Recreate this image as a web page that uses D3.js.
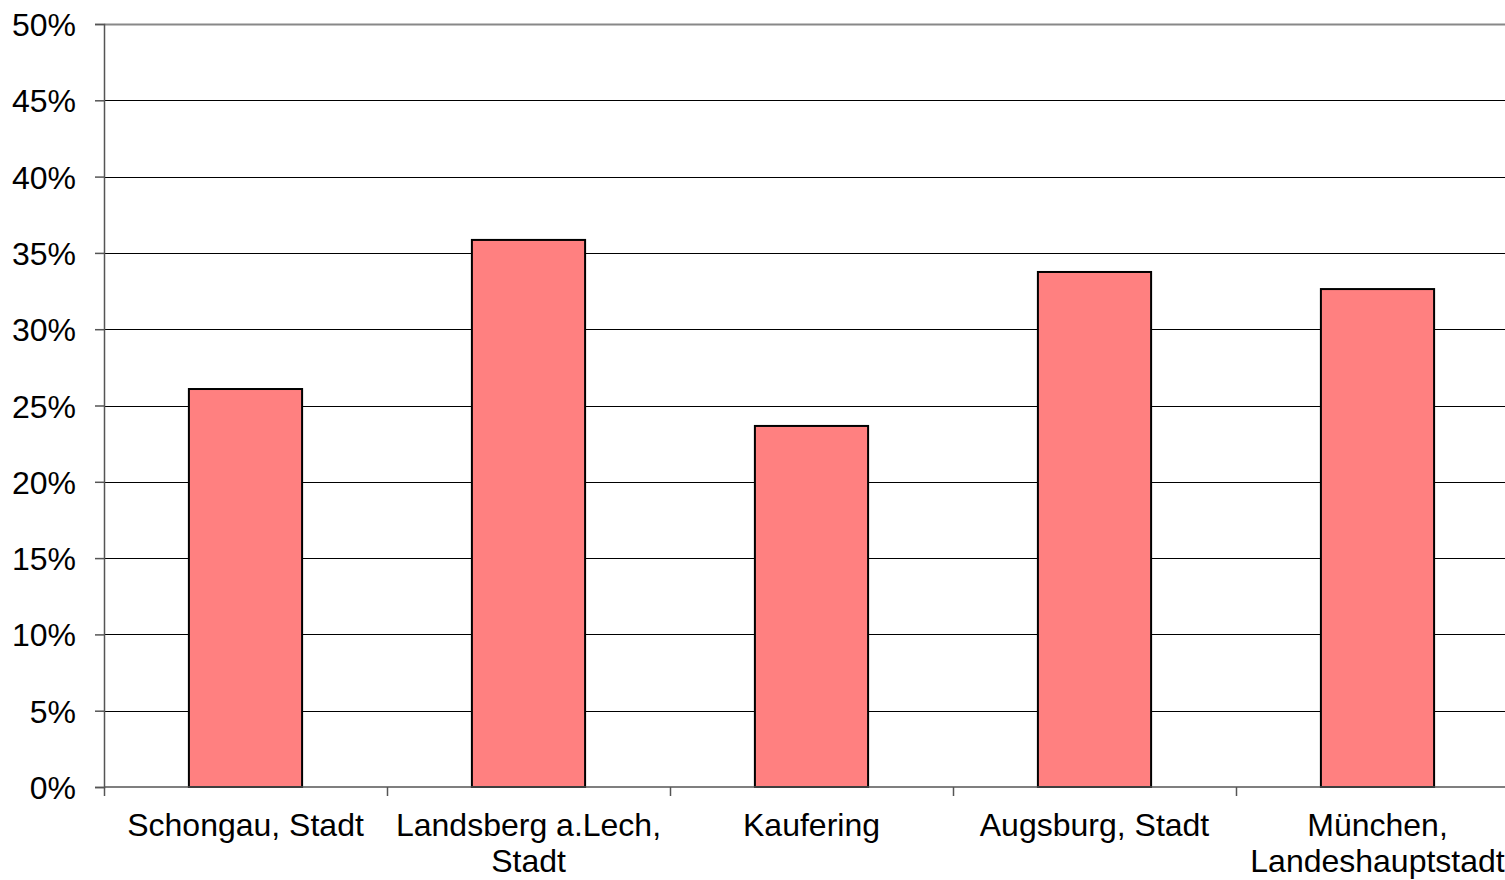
<!DOCTYPE html>
<html>
<head>
<meta charset="utf-8">
<script src="https://cdn.jsdelivr.net/npm/d3@7"></script>
<style>
  body { margin: 0; background: #fff; overflow: hidden; }
  text { font-family: "Liberation Sans", Arial, sans-serif; fill: #000; }
</style>
</head>
<body>
<div id="chart"></div>
<script>
// chart data
var categories = ["Schongau, Stadt", "Landsberg a.Lech, Stadt", "Kaufering", "Augsburg, Stadt", "München, Landeshauptstadt"];
var labelLines = [["Schongau, Stadt"], ["Landsberg a.Lech,", "Stadt"], ["Kaufering"], ["Augsburg, Stadt"], ["München,", "Landeshauptstadt"]];
var values = [0.2608, 0.3585, 0.2366, 0.3375, 0.3263];
var yTicks = [0, 0.05, 0.10, 0.15, 0.20, 0.25, 0.30, 0.35, 0.40, 0.45, 0.50];

var width = 1505, height = 880;
// plot area runs a little past the right edge of the picture
var plotRight = 1519;
var margin = {top: 24, bottom: 93, left: 104};

var svg = d3.select("#chart").append("svg")
  .attr("width", width)
  .attr("height", height);

var x = d3.scaleBand()
  .domain(categories)
  .range([margin.left, plotRight])
  .paddingInner(0.6)
  .paddingOuter(0.3);

var y = d3.scaleLinear()
  .domain([0, 0.5])
  .range([height - margin.bottom, margin.top]);

// gridlines
svg.append("g")
  .selectAll("line")
  .data(yTicks.slice(1))
  .join("line")
  .attr("x1", margin.left)
  .attr("x2", plotRight)
  .attr("y1", function(d) { return Math.round(y(d)) + 0.5; })
  .attr("y2", function(d) { return Math.round(y(d)) + 0.5; })
  .attr("stroke", function(d) { return d === 0.5 ? "#888" : "#000"; })
  .attr("stroke-width", function(d) { return d === 0.5 ? 2 : 1; });

// bars
svg.append("g")
  .selectAll("rect")
  .data(values)
  .join("rect")
  .attr("x", function(d, i) { return x(categories[i]); })
  .attr("y", function(d) { return y(d); })
  .attr("width", x.bandwidth())
  .attr("height", function(d) { return y(0) - y(d); })
  .attr("fill", "#FF8080")
  .attr("stroke", "#000")
  .attr("stroke-width", 2);

// y axis
var yAxis = svg.append("g")
  .attr("transform", "translate(" + margin.left + ",0)")
  .call(d3.axisLeft(y).tickValues(yTicks).tickFormat(d3.format(".0%")).tickSize(9).tickPadding(19));
yAxis.selectAll("text").style("font-size", "32px").attr("dy", "0.36em");
yAxis.selectAll("line, path").attr("stroke", "#555").attr("stroke-width", 1.5);

// x axis
var xAxisG = svg.append("g")
  .attr("transform", "translate(0," + (y(0)) + ")");
xAxisG.append("line")
  .attr("x1", margin.left).attr("x2", plotRight)
  .attr("stroke", "#555").attr("stroke-width", 1.5);
var boundaries = categories.map(function(d) { return x(d) - x.step() * x.paddingInner() / 2; });
xAxisG.selectAll("line.tick")
  .data(boundaries)
  .join("line")
  .attr("class", "tick")
  .attr("x1", function(d) { return Math.round(d) + 0.5; })
  .attr("x2", function(d) { return Math.round(d) + 0.5; })
  .attr("y1", 0).attr("y2", 9)
  .attr("stroke", "#555").attr("stroke-width", 1.5);

var labels = xAxisG.selectAll("text.cat")
  .data(categories)
  .join("text")
  .attr("class", "cat")
  .attr("text-anchor", "middle")
  .style("font-size", "32px")
  .attr("transform", function(d) { return "translate(" + (x(d) + x.bandwidth() / 2) + ",49)"; });
labels.each(function(d, i) {
  d3.select(this).selectAll("tspan")
    .data(labelLines[i])
    .join("tspan")
    .attr("x", 0)
    .attr("dy", function(l, j) { return j === 0 ? 0 : 36; })
    .text(function(l) { return l; });
});
</script>
</body>
</html>
